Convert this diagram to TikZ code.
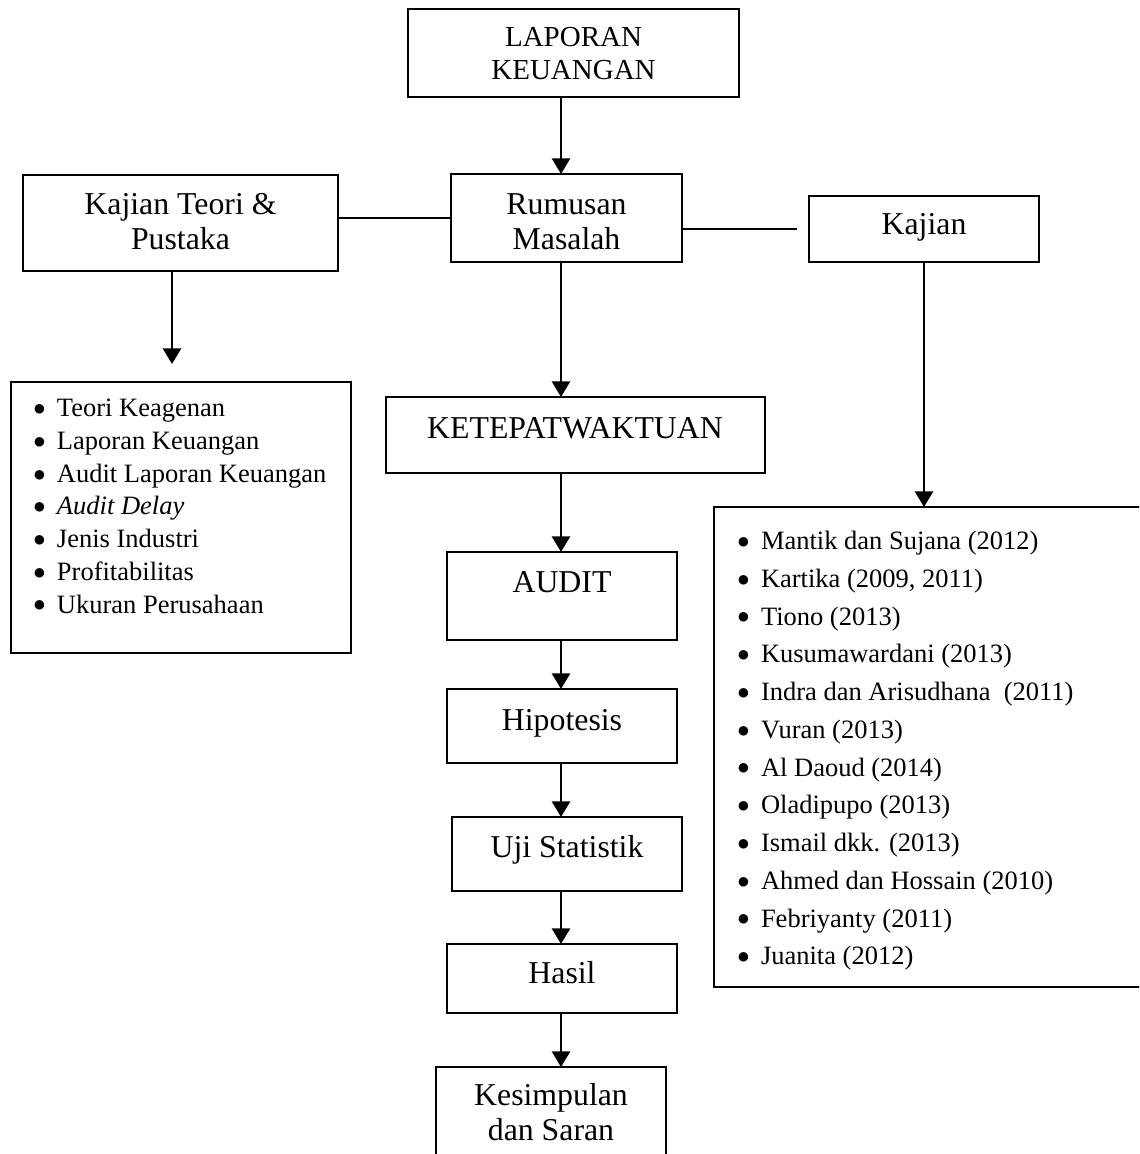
\documentclass[tikz,border=0pt]{standalone}
\usepackage{fontspec}
\setmainfont{Liberation Serif}
\usetikzlibrary{arrows.meta}

\tikzset{
  kotak/.style={draw, line width=1pt, inner sep=0pt, outer sep=0pt},
  teks/.style={inner sep=0pt, align=center, font=\fontsize{15.9}{17.5}\selectfont},
  daftar/.style={inner sep=0pt, align=left, anchor=north west},
  panah/.style={-{Triangle[length=7.8pt, width=9pt]}, line width=1.3pt},
  garis/.style={line width=1pt}
}
\newcommand{\butir}{\makebox[17.6pt][c]{\raisebox{0.6pt}{\fontsize{11}{11}\selectfont ●}}}

\begin{document}
\begin{tikzpicture}[x=0.5pt, y=-0.5pt]
% Page size (the picture is cut at the bottom and right)
\useasboundingbox (0,0) rectangle (1139,1154);
\clip (0,0) rectangle (1139,1154);

% Boxes of the main column
\node[kotak, minimum width=165.5pt, minimum height=44pt] (lapbox) at (573.5,53) {};
\node[kotak, minimum width=115.5pt, minimum height=44pt] (rumbox) at (566.5,218) {};
\node[kotak, minimum width=189.5pt, minimum height=38pt] (ketepbox) at (575.5,435) {};
\node[kotak, minimum width=115pt, minimum height=44pt] (auditbox) at (562,596) {};
\node[kotak, minimum width=115pt, minimum height=37pt] (hipbox) at (562,726) {};
\node[kotak, minimum width=115pt, minimum height=37pt] (ujibox) at (567,854) {};
\node[kotak, minimum width=115pt, minimum height=34.5pt] (hasilbox) at (562,978.5) {};
\node[kotak, minimum width=115pt, minimum height=66.5pt] (kesbox) at (551,1133.5) {};

% Boxes on the left and right
\node[kotak, minimum width=157.5pt, minimum height=48pt] (teoribox) at (180.5,223) {};
\node[kotak, minimum width=170pt, minimum height=135.5pt] (teorilistbox) at (181,517.5) {};
\node[kotak, minimum width=115pt, minimum height=33pt] (kajbox) at (924,229) {};
\node[kotak, minimum width=223pt, minimum height=240pt] (kajlistbox) at (937,747) {};

% Texts in the boxes
\node[teks, font=\fontsize{14.5}{16.5}\selectfont] (laptxt) at (573.5,53.7) {LAPORAN\\KEUANGAN};
\node[teks] (rumtxt) at (566.5,222) {Rumusan\\Masalah};
\node[teks, anchor=base] (keteptxt) at (575,438) {KETEPATWAKTUAN};
\node[teks, anchor=base] (audittxt) at (562,592) {AUDIT};
\node[teks, anchor=base] (hiptxt) at (562,730) {Hipotesis};
\node[teks, anchor=base] (ujitxt) at (567,857) {Uji Statistik};
\node[teks, anchor=base] (hasiltxt) at (562,983) {Hasil};
\node[teks] (kestxt) at (551,1112.6) {Kesimpulan\\dan Saran};
\node[teks] (teoritxt) at (180.5,221.6) {Kajian Teori \&\\Pustaka};
\node[teks, anchor=base] (kajtxt) at (924,235) {Kajian};

% Lists
\node[daftar, font=\fontsize{13.25}{16.35}\selectfont] (teoriitems) at (21.4,398.9) {%
\butir Teori Keagenan\\
\butir Laporan Keuangan\\
\butir Audit Laporan Keuangan\\
\butir \textit{Audit Delay}\\
\butir Jenis Industri\\
\butir Profitabilitas\\
\butir Ukuran Perusahaan};
\node[daftar, font=\fontsize{13.25}{18.875}\selectfont] (kajitems) at (725.4,530.9) {%
\butir Mantik dan Sujana (2012)\\
\butir Kartika (2009, 2011)\\
\butir Tiono (2013)\\
\butir Kusumawardani (2013)\\
\butir Indra dan Arisudhana~ (2011)\\
\butir Vuran (2013)\\
\butir Al Daoud (2014)\\
\butir Oladipupo (2013)\\
\butir Ismail dkk. (2013)\\
\butir Ahmed dan Hossain (2010)\\
\butir Febriyanty (2011)\\
\butir Juanita (2012)};

% Arrows down the main column
\coordinate (sumbu) at (561,0);
\draw[panah] (lapbox.south -| sumbu) -- (rumbox.north -| sumbu);
\draw[panah] (rumbox.south -| sumbu) -- (ketepbox.north -| sumbu);
\draw[panah] (ketepbox.south -| sumbu) -- (auditbox.north -| sumbu);
\draw[panah] (auditbox.south -| sumbu) -- (hipbox.north -| sumbu);
\draw[panah] (hipbox.south -| sumbu) -- (ujibox.north -| sumbu);
\draw[panah] (ujibox.south -| sumbu) -- (hasilbox.north -| sumbu);
\draw[panah] (hasilbox.south -| sumbu) -- (kesbox.north -| sumbu);

% Side connections
\draw[garis] (teoribox.east |- rumbox.west) -- (rumbox.west);
\draw[garis] (rumbox.east |- kajbox.west) -- ([xshift=-6pt]kajbox.west);
\coordinate (teoriujung) at (172,364);
\draw[panah] (teoribox.south -| teoriujung) -- (teoriujung);
\draw[panah] (kajbox.south) -- (kajbox.south |- kajlistbox.north);
\end{tikzpicture}
\end{document}
